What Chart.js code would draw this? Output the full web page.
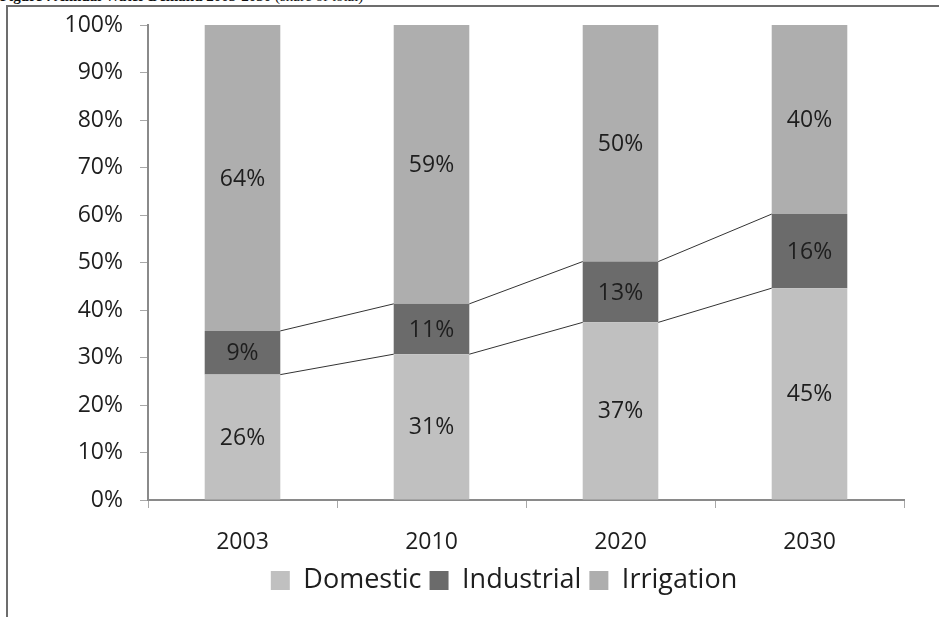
<!DOCTYPE html>
<html>
<head>
<meta charset="utf-8">
<script src="https://cdn.jsdelivr.net/npm/chart.js@4.4.0/dist/chart.umd.min.js"></script>
<style>
  html, body { margin: 0; padding: 0; background: #fff; }
  body { width: 939px; height: 617px; position: relative; overflow: hidden; }
  #title {
    position: absolute; left: 0; top: -11px; white-space: nowrap;
    font: bold 15px "Liberation Serif", serif; line-height: 15px; color: #111;
  }
  #title span { font-weight: normal; }
  #frame {
    position: absolute; left: 6px; top: 5px; right: -4px; bottom: -4px;
    border-top: 2px solid #6d6d6d; border-left: 2px solid #6d6d6d;
  }
  #wrap { position: absolute; left: 0; top: 0; width: 939px; height: 617px; }
</style>
</head>
<body>
<div id="title">Figure : Annual Water Demand 2003-2030 <span>(share of total)</span></div>
<div id="frame"></div>
<div id="wrap"><canvas id="chart" width="939" height="617"></canvas></div>
<script>
// shares of total water demand, %
const years = ["2003", "2010", "2020", "2030"];
const domestic = [26.4, 30.7, 37.4, 44.6];
const industrial = [9.2, 10.6, 12.8, 15.6];
const irrigation = [64.4, 58.7, 49.8, 39.8];
const yTicks = [0, 10, 20, 30, 40, 50, 60, 70, 80, 90, 100];

const font = "'Open Sans', sans-serif";
const ink = "#1e1e1e";

// Excel-style series lines joining the tops of the lower segments
const seriesLines = {
    id: "seriesLines",
    afterDatasetsDraw(chart) {
        const ctx = chart.ctx;
        ctx.save();
        ctx.strokeStyle = "#333";
        ctx.lineWidth = 1;
        [0, 1].forEach(d => {
            const bars = chart.getDatasetMeta(d).data;
            for (let i = 0; i < bars.length - 1; i++) {
                const a = bars[i], b = bars[i + 1];
                ctx.beginPath();
                ctx.moveTo(a.x + a.width / 2, a.y);
                ctx.lineTo(b.x - b.width / 2, b.y);
                ctx.stroke();
            }
        });
        ctx.restore();
    }
};

// percent labels in the middle of each segment
const segLabels = {
    id: "segLabels",
    afterDatasetsDraw(chart) {
        const ctx = chart.ctx;
        ctx.save();
        ctx.font = "23px " + font;
        ctx.fillStyle = ink;
        ctx.textAlign = "center";
        ctx.textBaseline = "middle";
        chart.data.datasets.forEach((ds, d) => {
            chart.getDatasetMeta(d).data.forEach((bar, i) => {
                ctx.fillText(Math.round(ds.data[i]) + "%", bar.x, (bar.y + bar.base) / 2 + 1);
            });
        });
        ctx.restore();
    }
};

// legend sits a bit right of the canvas centre in the original
const legendShift = {
    id: "legendShift",
    afterLayout(chart) {
        chart.legend.left += 42;
        chart.legend.right += 42;
    }
};

const mkSet = (label, data, color) => ({
    label: label,
    data: data,
    backgroundColor: color,
    borderWidth: 0,
    categoryPercentage: 1,
    barPercentage: 0.4
});

new Chart(document.getElementById("chart"), {
    type: "bar",
    data: {
        labels: years,
        datasets: [
            mkSet("Domestic", domestic, "#c0c0c0"),
            mkSet("Industrial", industrial, "#6b6b6b"),
            mkSet("Irrigation", irrigation, "#aeaeae")
        ]
    },
    options: {
        responsive: false,
        animation: false,
        layout: { padding: { left: 20, right: 35, top: 0, bottom: 13 } },
        scales: {
            x: {
                stacked: true,
                afterFit: s => { s.height = 59; },
                grid: { offset: true, drawOnChartArea: false, drawTicks: true, tickLength: 8, color: "#a8a8a8" },
                border: { color: "#8a8a8a", width: 2 },
                ticks: { color: ink, font: { family: font, size: 23 }, padding: 21 }
            },
            y: {
                stacked: true,
                min: 0,
                max: 100,
                afterBuildTicks: s => { s.ticks = yTicks.map(v => ({ value: v })); },
                afterFit: s => { s.width = 128; },
                grid: { drawOnChartArea: false, drawTicks: true, tickLength: 8, color: "#a8a8a8" },
                border: { color: "#8a8a8a", width: 2 },
                ticks: {
                    color: ink,
                    font: { family: font, size: 23, lineHeight: 0.7 },
                    padding: 17,
                    callback: v => v + "%"
                }
            }
        },
        plugins: {
            legend: {
                position: "bottom",
                labels: {
                    color: ink,
                    font: { family: font, size: 27 },
                    boxWidth: 19,
                    boxHeight: 19,
                    padding: 8
                }
            },
            tooltip: { enabled: false }
        }
    },
    plugins: [seriesLines, segLabels, legendShift]
});
</script>
</body>
</html>
